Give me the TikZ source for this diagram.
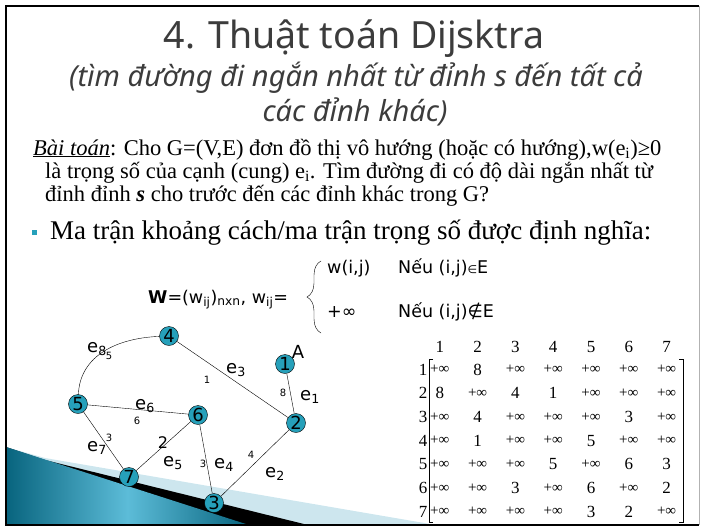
\documentclass[tikz,border=0pt]{standalone}
\usepackage{fontspec}
\setmainfont{Liberation Serif}
\newfontfamily\headfont{Noto Sans}
\newfontfamily\formfont{DejaVu Sans}
\usetikzlibrary{decorations.pathreplacing}
\definecolor{slidegray}{RGB}{60,60,60}
\definecolor{nodeteal}{RGB}{38,160,186}
\definecolor{darkteal}{RGB}{8,100,126}
\definecolor{lightteal}{RGB}{92,188,216}
\definecolor{bandblue}{RGB}{205,230,238}
\newcommand{\pinf}{{\fontsize{15}{15}\selectfont +∞}}
\begin{document}
\begin{tikzpicture}[x=1pt,y=-1pt,
    vertex/.style={circle,draw=black,fill=nodeteal,inner sep=0pt,minimum size=19pt,
      font=\formfont\fontsize{18}{18}\selectfont},
    edgelab/.style={inner sep=0pt,font=\formfont\fontsize{18}{18}\selectfont},
    weight/.style={inner sep=0pt,font=\formfont\fontsize{10}{10}\selectfont},
    bodytext/.style={anchor=base west,inner sep=0pt,font=\fontsize{22.5}{22.5}\selectfont},
    formtext/.style={anchor=base west,inner sep=0pt,font=\formfont\fontsize{17.5}{17.5}\selectfont},
    cell/.style={inner sep=0pt,font=\fontsize{17}{17}\selectfont}]
    \useasboundingbox (0,0) rectangle (703,528);
    % ---- corner decoration ----
    \fill[bandblue] (45,458) -- (436,525) -- (6,525) -- (6,447) -- cycle;
    \fill[black] (45,460) -- (308,525) -- (6,525) -- (6,447) -- cycle;
    \shade[left color=darkteal,right color=darkteal,middle color=lightteal]
      (6,447) -- (249,525) -- (6,525) -- cycle;
    % ---- frame ----
    \draw[line width=2pt] (699,6) -- (6,6) -- (6,525) -- (699,525);
    \draw[gray!60,line width=1pt] (699,6) -- (699,525);
    % ---- heading ----
    \node[text=slidegray,font=\headfont\fontsize{37.5}{37.5}\selectfont] (title) at (354,39) {4. Thuật toán Dijsktra};
    \node[text=slidegray,font=\headfont\itshape\fontsize{29}{29}\selectfont] (sub1) at (356,78) {(tìm đường đi ngắn nhất từ đỉnh s đến tất cả};
    \node[text=slidegray,font=\headfont\itshape\fontsize{29}{29}\selectfont] (sub2) at (355,112) {các đỉnh khác)};
    % ---- problem statement ----
    \node[bodytext] (line1) at (33,155) {\underline{\textit{Bài toán}}: Cho G=(V,E) đơn đồ thị vô hướng (hoặc có hướng),w(e\textsubscript{i})≥0};
    \node[bodytext] (line2) at (45,178) {là trọng số của cạnh (cung) e\textsubscript{i}. Tìm đường đi có độ dài ngắn nhất từ};
    \node[bodytext] (line3) at (45,201) {đỉnh đỉnh \textbf{\textit{s}} cho trước đến các đỉnh khác trong G?};
    \node[fill=nodeteal,inner sep=0pt,minimum size=5pt] (bullet) at (34,232) {};
    \node[bodytext,font=\fontsize{27}{27}\selectfont] (line4) at (50,239) {Ma trận khoảng cách/ma trận trọng số được định nghĩa:};
    % ---- weight definition ----
    \node[formtext] (wdef) at (148,303) {\textbf{W}=(w\textsubscript{ij})\textsubscript{nxn}, w\textsubscript{ij}=};
    \draw[decorate,decoration={brace,amplitude=14pt}] (321,333) -- (321,261);
    \node[formtext] (case1) at (327,273) {w(i,j)};
    \node[formtext] (cond1) at (398,273) {Nếu (i,j){\fontsize{11}{11}\selectfont ∈}E};
    \node[formtext] (case2) at (327,317) {+∞};
    \node[formtext] (cond2) at (398,317) {Nếu (i,j)∉E};
    % ---- graph ----
    \node[vertex] (v1) at (285,364) {1};
    \node[vertex] (v2) at (296,423) {2};
    \node[vertex] (v3) at (214,503) {3};
    \node[vertex] (v4) at (169,336) {4};
    \node[vertex] (v5) at (78,404) {5};
    \node[vertex] (v6) at (198,415) {6};
    \node[vertex] (v7) at (129,477) {7};
    \draw (v1) -- (v2);
    \draw (v2) -- (v3);
    \draw (v4) -- (v2);
    \draw (v6) -- (v3);
    \draw (v6) -- (v7);
    \draw (v5) -- (v6);
    \draw (v5) -- (v7);
    \draw (v5) .. controls (80,355) and (118,338) .. (v4);
    \node[edgelab] (e1) at (310,397) {e\textsubscript{1}};
    \node[edgelab] (e2) at (275,474) {e\textsubscript{2}};
    \node[edgelab] (e3) at (236,370) {e\textsubscript{3}};
    \node[edgelab] (e4) at (224,465) {e\textsubscript{4}};
    \node[edgelab] (e5) at (173,463) {e\textsubscript{5}};
    \node[edgelab] (e6) at (145,406) {e\textsubscript{6}};
    \node[edgelab] (e7) at (97,448) {e\textsubscript{7}};
    \node[edgelab] (e8) at (97,349) {e\textsubscript{8}};
    \node[edgelab] (src) at (298,352) {A};
    \node[weight] (w1) at (283,393) {8};
    \node[weight] (w2) at (251,455) {4};
    \node[weight] (w3) at (207,380) {1};
    \node[weight] (w4) at (203,464) {3};
    \node[edgelab,font=\formfont\fontsize{16}{16}\selectfont] (w5) at (163,443) {2};
    \node[weight] (w6) at (137,421) {6};
    \node[weight] (w7) at (109,438) {3};
    \node[weight] (w8) at (109,356) {5};
    % ---- matrix ----
    \foreach \c in {1,...,7}
      \node[cell] (h\c) at (402+37.8*\c,347) {\c};
    \foreach \row [count=\r] in {
        {\pinf,8,\pinf,\pinf,\pinf,\pinf,\pinf},
        {8,\pinf,4,1,\pinf,\pinf,\pinf},
        {\pinf,4,\pinf,\pinf,\pinf,3,\pinf},
        {\pinf,1,\pinf,\pinf,5,\pinf,\pinf},
        {\pinf,\pinf,\pinf,5,\pinf,6,3},
        {\pinf,\pinf,3,\pinf,6,\pinf,2},
        {\pinf,\pinf,\pinf,\pinf,3,2,\pinf}} {
      \node[cell] (r\r) at (423,345.8+23.7*\r) {\r};
      \foreach \val [count=\c] in \row
        \node[cell] (m\r\c) at (402+37.8*\c,345.8+23.7*\r) {\val};
    }
    \draw (433,359) -- (429,359) -- (429,522) -- (433,522);
    \draw (679,359) -- (683,359) -- (683,522) -- (679,522);
\end{tikzpicture}
\end{document}
